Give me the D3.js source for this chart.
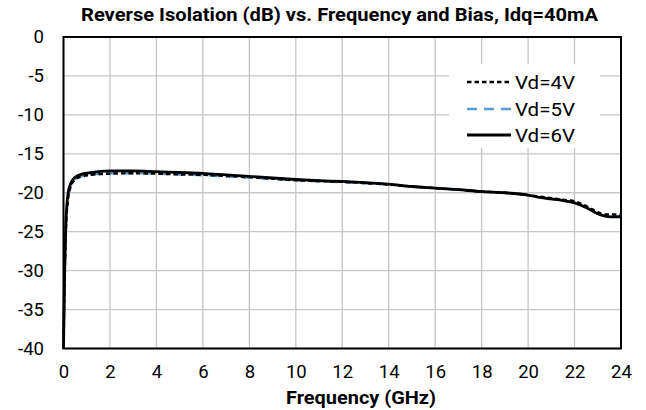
<!DOCTYPE html>
<html><head><meta charset="utf-8">
<script src="https://cdn.jsdelivr.net/npm/d3@7"></script>
<style>body{margin:0;background:#fff}svg{display:block;font-family:Roboto,"Liberation Sans",sans-serif}</style>
</head><body>
<svg id="c" width="646" height="410"></svg>
<script>
const freq = [0,0.05,0.1,0.2,0.3,0.5,0.8,1.2,1.6,2,3,4,5,6,7,8,9,10,11,12,13,14,15,16,17,18,19,20,20.5,21,21.5,22,22.5,23,23.3,23.6,24];
const vd4 = [-40,-31,-25,-20.8,-19.3,-18.3,-17.9,-17.7,-17.6,-17.55,-17.5,-17.55,-17.65,-17.7,-17.85,-18.0,-18.2,-18.4,-18.5,-18.6,-18.75,-18.95,-19.2,-19.4,-19.6,-19.85,-20.0,-20.3,-20.5,-20.7,-20.9,-21.1,-21.7,-22.5,-22.8,-22.8,-22.8];
const vd5 = [-40,-31,-25,-20.7,-19.2,-18.25,-17.85,-17.65,-17.55,-17.5,-17.5,-17.55,-17.65,-17.75,-17.9,-18.05,-18.25,-18.4,-18.55,-18.65,-18.8,-18.95,-19.2,-19.4,-19.6,-19.85,-20.0,-20.3,-20.6,-20.8,-21.0,-21.3,-21.9,-22.7,-22.95,-23.0,-23.0];
const vd6 = [-40,-30,-24,-20,-18.9,-18.0,-17.6,-17.4,-17.25,-17.2,-17.2,-17.3,-17.4,-17.5,-17.7,-17.9,-18.1,-18.3,-18.45,-18.55,-18.7,-18.9,-19.2,-19.4,-19.6,-19.85,-20.0,-20.3,-20.6,-20.8,-21.0,-21.3,-21.9,-22.7,-23.0,-23.1,-23.1];
const xTicks = [0,2,4,6,8,10,12,14,16,18,20,22,24];
const yTicks = [0,-5,-10,-15,-20,-25,-30,-35,-40];
const seriesNames = ["Vd=4V","Vd=5V","Vd=6V"];

const svg = d3.select("#c");
const L=63.5, R=621, T=37, B=348.5;
const x = d3.scaleLinear().domain([0,24]).range([L,R]);
const y = d3.scaleLinear().domain([-40,0]).range([B,T]);

// grid
svg.append("g").selectAll("line").data(xTicks).join("line")
  .attr("x1",d=>x(d)).attr("x2",d=>x(d)).attr("y1",T).attr("y2",B)
  .attr("stroke","#c6c6c6").attr("stroke-width",1.3);
svg.append("g").selectAll("line").data(yTicks).join("line")
  .attr("x1",L).attr("x2",R).attr("y1",d=>y(d)).attr("y2",d=>y(d))
  .attr("stroke","#c6c6c6").attr("stroke-width",1.3);

// axes labels
const xa = svg.append("g").attr("transform",`translate(0,${B})`)
  .call(d3.axisBottom(x).tickValues(xTicks).tickSize(0).tickPadding(16.5).tickFormat(d3.format("d")));
xa.select(".domain").remove();
xa.selectAll("text").attr("font-size",18.5).attr("fill","#000").attr("font-family","Roboto");
const ya = svg.append("g").attr("transform",`translate(${L},0)`)
  .call(d3.axisLeft(y).tickValues(yTicks).tickSize(0).tickPadding(19.5).tickFormat(d=>d===0?"0":String(d)));
ya.select(".domain").remove();
ya.selectAll("text").attr("font-size",18.5).attr("fill","#000").attr("font-family","Roboto");

const line = d3.line().x((d,i)=>x(freq[i])).y(d=>y(d)).curve(d3.curveMonotoneX);
const styles = [
  {data:vd4,color:"#000",dash:"4.5,3",w:2.4},
  {data:vd5,color:"#5b9bd5",dash:"10,7",w:2.4},
  {data:vd6,color:"#000",dash:null,w:2.8}
];
const order=[1,0,2];
order.forEach(i=>{
  const s=styles[i];
  svg.append("path").attr("d",line(s.data)).attr("fill","none")
    .attr("stroke",s.color).attr("stroke-width",s.w)
    .attr("stroke-dasharray",s.dash);
});

// legend
svg.append("rect").attr("x",449).attr("y",64).attr("width",151).attr("height",84).attr("fill","#fff");
const ly=[82,109,135];
styles.forEach((s,i)=>{
  svg.append("line").attr("x1",467).attr("x2",511).attr("y1",ly[i]).attr("y2",ly[i])
    .attr("stroke",s.color).attr("stroke-width",s.w).attr("stroke-dasharray",s.dash);
  svg.append("text").attr("x",515).attr("y",ly[i]+6.5).attr("font-size",18.5).attr("font-family","Roboto")
    .attr("textLength",60).attr("lengthAdjust","spacingAndGlyphs")
    .text(seriesNames[i]);
});

// border
svg.append("rect").attr("x",L).attr("y",T).attr("width",R-L).attr("height",B-T)
  .attr("fill","none").attr("stroke","#000").attr("stroke-width",2);

svg.append("text").attr("x",81).attr("y",21).attr("textLength",517).attr("lengthAdjust","spacingAndGlyphs")
  .attr("font-size",17.5).attr("font-weight","bold").attr("font-family","Roboto")
  .text("Reverse Isolation (dB) vs. Frequency and Bias, Idq=40mA");
svg.append("text").attr("x",286).attr("y",404).attr("textLength",150).attr("lengthAdjust","spacingAndGlyphs")
  .attr("font-size",17.8).attr("font-weight","bold").attr("font-family","Roboto")
  .text("Frequency (GHz)");
</script>
</body></html>
